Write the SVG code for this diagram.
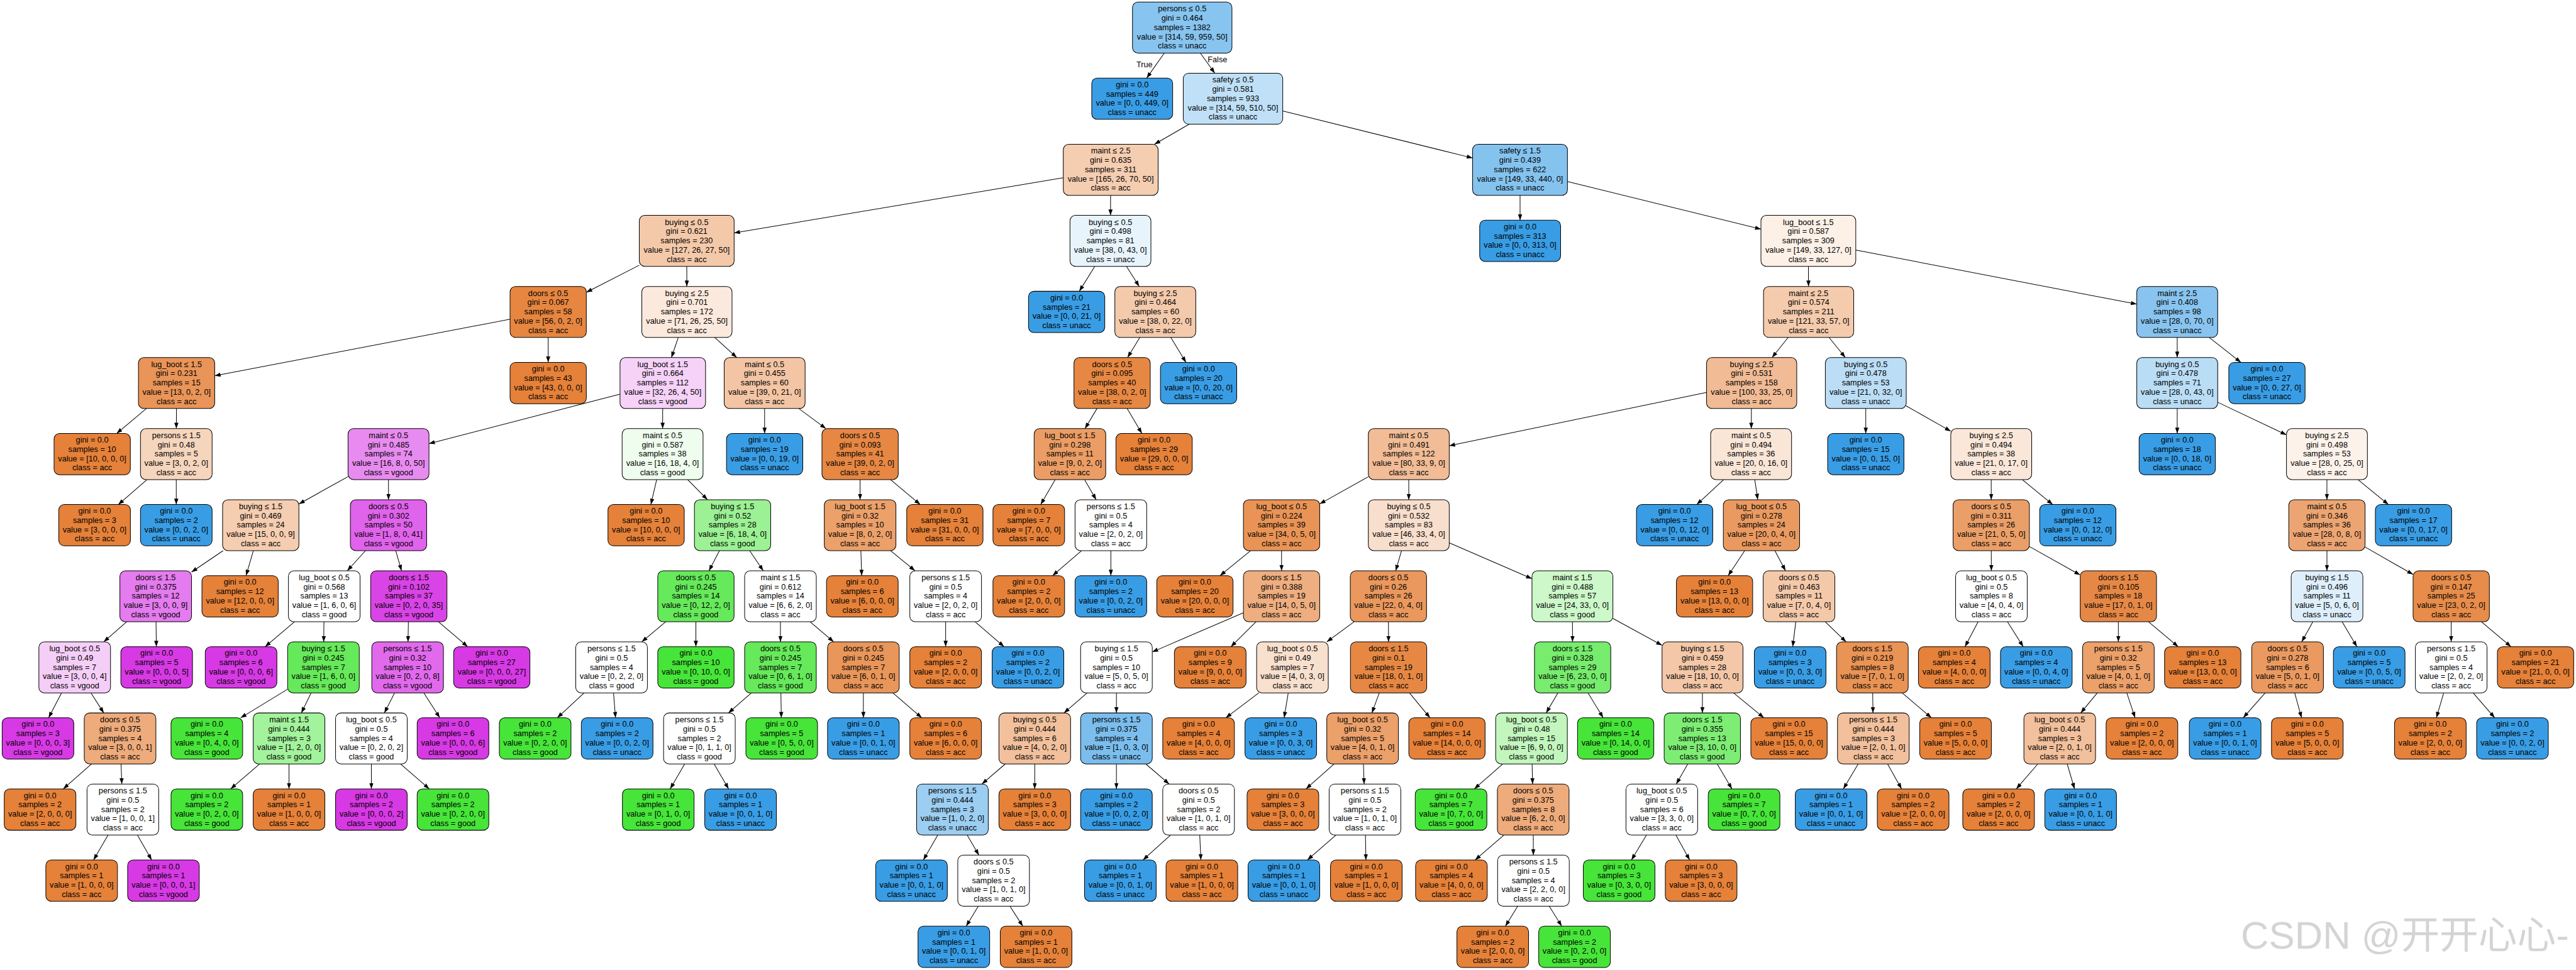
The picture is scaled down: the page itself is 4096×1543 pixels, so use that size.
<svg xmlns="http://www.w3.org/2000/svg" width="4096" height="1543" viewBox="0 0 4096 1543">
<defs>
<style>
.nd rect{stroke:#000;stroke-width:1.5}
.nd text{font-family:"Liberation Sans",Arial,Helvetica,sans-serif;font-size:19px;text-anchor:middle;fill:#000}
.a{fill:#e58139}.g{fill:#47e539}.u{fill:#399de5}.v{fill:#d739e5}.w{fill:#ffffff}
#edges line{stroke:#000;stroke-width:1.5;marker-end:url(#ah)}
.lbl{font-family:"Liberation Sans",Arial,Helvetica,sans-serif;font-size:19px;fill:#000}
.wm{font-family:"Liberation Sans","Noto Sans CJK SC",sans-serif;font-size:92px;fill:#d4d4d4}
</style>
<marker id="ah" viewBox="0 0 14 10" markerUnits="userSpaceOnUse" markerWidth="14" markerHeight="10" refX="14" refY="5" orient="auto"><path d="M0,0L14,5L0,10z" fill="#000"/></marker>
</defs>
<rect width="4096" height="1543" fill="#fff"/>
<g transform="scale(0.670486)">
<g id="edges">
<line x1="2761.1" y1="126" x2="2719.4" y2="185.15"/>
<line x1="2846.7" y1="126" x2="2880.9" y2="173.65"/>
<line x1="2820.2" y1="294.65" x2="2737.8" y2="342.3"/>
<line x1="3042" y1="263.4" x2="3492.2" y2="374.9"/>
<line x1="2521.5" y1="421.7" x2="1741" y2="552.6"/>
<line x1="2633.8" y1="463.3" x2="2633.6" y2="510.95"/>
<line x1="3604.8" y1="463.3" x2="3604.9" y2="522.45"/>
<line x1="3717.2" y1="430.5" x2="4176" y2="543.7"/>
<line x1="1516" y1="629.2" x2="1390.5" y2="693.6"/>
<line x1="1628.7" y1="631.95" x2="1628.8" y2="679.6"/>
<line x1="2596.2" y1="631.95" x2="2559.6" y2="691.1"/>
<line x1="2671.5" y1="631.95" x2="2701.7" y2="679.6"/>
<line x1="4288.7" y1="631.95" x2="4288.9" y2="679.6"/>
<line x1="4401" y1="593.1" x2="5067.3" y2="721.6"/>
<line x1="1209.5" y1="757.4" x2="509.2" y2="891.4"/>
<line x1="1300" y1="800.6" x2="1300" y2="859.75"/>
<line x1="1608.5" y1="800.6" x2="1592.3" y2="848.25"/>
<line x1="1695" y1="800.6" x2="1747.3" y2="848.25"/>
<line x1="2703.1" y1="800.6" x2="2674" y2="848.25"/>
<line x1="2776.5" y1="800.6" x2="2812.6" y2="859.75"/>
<line x1="4240.7" y1="800.6" x2="4202.4" y2="848.25"/>
<line x1="4337.6" y1="800.6" x2="4376.2" y2="848.25"/>
<line x1="5163.3" y1="800.6" x2="5163.3" y2="848.25"/>
<line x1="5239.4" y1="800.6" x2="5314.3" y2="859.75"/>
<line x1="347.1" y1="969.25" x2="276.6" y2="1028.4"/>
<line x1="418.5" y1="969.25" x2="418.2" y2="1016.9"/>
<line x1="1470.3" y1="935.1" x2="1017.3" y2="1052.5"/>
<line x1="1571.6" y1="969.25" x2="1571.4" y2="1016.9"/>
<line x1="1813.3" y1="969.25" x2="1813.3" y2="1028.4"/>
<line x1="1894.4" y1="969.25" x2="1958.6" y2="1016.9"/>
<line x1="2601.5" y1="969.25" x2="2573.1" y2="1016.9"/>
<line x1="2673" y1="969.25" x2="2708" y2="1028.4"/>
<line x1="4047" y1="930.9" x2="3436.9" y2="1057.5"/>
<line x1="4153.5" y1="969.25" x2="4153.2" y2="1016.9"/>
<line x1="4424.7" y1="969.25" x2="4424.7" y2="1028.4"/>
<line x1="4520.7" y1="963.2" x2="4626.2" y2="1023"/>
<line x1="5163.3" y1="969.25" x2="5163.3" y2="1028.4"/>
<line x1="5259.3" y1="954.4" x2="5422.3" y2="1031.8"/>
<line x1="348.7" y1="1137.9" x2="280.5" y2="1197.05"/>
<line x1="418" y1="1137.9" x2="418" y2="1197.05"/>
<line x1="825.3" y1="1130.8" x2="708.8" y2="1195.7"/>
<line x1="921.3" y1="1137.9" x2="921.3" y2="1185.55"/>
<line x1="1557.3" y1="1137.9" x2="1543.5" y2="1197.05"/>
<line x1="1630.7" y1="1137.9" x2="1677.8" y2="1185.55"/>
<line x1="2039.7" y1="1137.9" x2="2039.7" y2="1185.55"/>
<line x1="2111.7" y1="1137.9" x2="2182.4" y2="1197.05"/>
<line x1="2502.4" y1="1137.9" x2="2468" y2="1197.05"/>
<line x1="2572.1" y1="1137.9" x2="2599.6" y2="1185.55"/>
<line x1="3244.9" y1="1131.1" x2="3129.7" y2="1195.5"/>
<line x1="3340.9" y1="1137.9" x2="3340.9" y2="1185.55"/>
<line x1="4087.8" y1="1137.9" x2="4023.9" y2="1197.05"/>
<line x1="4161.5" y1="1137.9" x2="4168.5" y2="1185.55"/>
<line x1="4722.2" y1="1137.9" x2="4722.2" y2="1185.55"/>
<line x1="4795.7" y1="1137.9" x2="4868" y2="1197.05"/>
<line x1="5518.3" y1="1137.9" x2="5518.3" y2="1185.55"/>
<line x1="5591.8" y1="1137.9" x2="5664.1" y2="1197.05"/>
<line x1="529.1" y1="1306.55" x2="454.2" y2="1357.2"/>
<line x1="600.8" y1="1306.55" x2="583.5" y2="1365.7"/>
<line x1="866.7" y1="1306.55" x2="823.5" y2="1354.2"/>
<line x1="938.6" y1="1306.55" x2="952.2" y2="1354.2"/>
<line x1="1706.1" y1="1306.55" x2="1681.4" y2="1354.2"/>
<line x1="1777.9" y1="1306.55" x2="1810.1" y2="1354.2"/>
<line x1="2041.6" y1="1306.55" x2="2043.5" y2="1365.7"/>
<line x1="2112.3" y1="1306.55" x2="2170" y2="1354.2"/>
<line x1="2564.7" y1="1306.55" x2="2496.2" y2="1365.7"/>
<line x1="2634.4" y1="1306.55" x2="2634.4" y2="1365.7"/>
<line x1="2965.6" y1="1306.55" x2="2893.3" y2="1365.7"/>
<line x1="3039.2" y1="1306.55" x2="3039.2" y2="1354.2"/>
<line x1="3323.6" y1="1306.55" x2="3309.9" y2="1354.2"/>
<line x1="3436.9" y1="1287.8" x2="3633" y2="1373"/>
<line x1="4137.5" y1="1306.55" x2="4098.3" y2="1365.7"/>
<line x1="4209.2" y1="1306.55" x2="4234.4" y2="1354.2"/>
<line x1="4722.3" y1="1306.55" x2="4722.5" y2="1354.2"/>
<line x1="4812.7" y1="1296.7" x2="4933.2" y2="1364.1"/>
<line x1="5518.4" y1="1306.55" x2="5518.4" y2="1354.2"/>
<line x1="5608.8" y1="1297.8" x2="5722.6" y2="1362.9"/>
<line x1="300.4" y1="1475.2" x2="245.9" y2="1522.85"/>
<line x1="370" y1="1475.2" x2="370.8" y2="1534.35"/>
<line x1="698.3" y1="1475.2" x2="628.8" y2="1534.35"/>
<line x1="768.2" y1="1475.2" x2="767.7" y2="1522.85"/>
<line x1="968.5" y1="1475.2" x2="967.6" y2="1522.85"/>
<line x1="1039.9" y1="1475.2" x2="1109.2" y2="1534.35"/>
<line x1="1578.7" y1="1475.2" x2="1521.9" y2="1522.85"/>
<line x1="1650.3" y1="1475.2" x2="1650.3" y2="1534.35"/>
<line x1="1850.8" y1="1475.2" x2="1850.8" y2="1522.85"/>
<line x1="1921.2" y1="1475.2" x2="1977.1" y2="1522.85"/>
<line x1="2242.6" y1="1475.2" x2="2242.6" y2="1534.35"/>
<line x1="2312.5" y1="1475.2" x2="2381.2" y2="1534.35"/>
<line x1="2948.7" y1="1453.7" x2="2732.6" y2="1546.8"/>
<line x1="2978.6" y1="1475.2" x2="2919.1" y2="1534.35"/>
<line x1="3211.1" y1="1475.2" x2="3146.5" y2="1522.85"/>
<line x1="3292.7" y1="1475.2" x2="3292.9" y2="1522.85"/>
<line x1="3729.1" y1="1475.2" x2="3729.3" y2="1522.85"/>
<line x1="3825" y1="1467.2" x2="3941.5" y2="1530.9"/>
<line x1="4258.8" y1="1475.2" x2="4251.4" y2="1534.35"/>
<line x1="4328.6" y1="1475.2" x2="4378" y2="1522.85"/>
<line x1="4691.1" y1="1475.2" x2="4660" y2="1534.35"/>
<line x1="4760.7" y1="1475.2" x2="4798.2" y2="1534.35"/>
<line x1="5023.7" y1="1475.2" x2="5023.7" y2="1522.85"/>
<line x1="5095.3" y1="1475.2" x2="5165.7" y2="1534.35"/>
<line x1="5485" y1="1475.2" x2="5458.5" y2="1522.85"/>
<line x1="5554.3" y1="1475.2" x2="5589.5" y2="1534.35"/>
<line x1="5813.1" y1="1475.2" x2="5813" y2="1522.85"/>
<line x1="5884.7" y1="1475.2" x2="5955" y2="1534.35"/>
<line x1="145.9" y1="1643.85" x2="115.3" y2="1703"/>
<line x1="215.6" y1="1643.85" x2="246.2" y2="1691.5"/>
<line x1="682" y1="1635.2" x2="570.7" y2="1703"/>
<line x1="737.8" y1="1643.85" x2="714.6" y2="1691.5"/>
<line x1="935.8" y1="1643.85" x2="911.5" y2="1691.5"/>
<line x1="1005.1" y1="1643.85" x2="1043" y2="1703"/>
<line x1="1385.4" y1="1643.85" x2="1321.6" y2="1703"/>
<line x1="1455" y1="1643.85" x2="1459.7" y2="1703"/>
<line x1="1782" y1="1643.85" x2="1727.4" y2="1691.5"/>
<line x1="1851.9" y1="1643.85" x2="1852.9" y2="1703"/>
<line x1="2047.5" y1="1643.85" x2="2047.5" y2="1703"/>
<line x1="2117.3" y1="1643.85" x2="2186" y2="1703"/>
<line x1="2578.3" y1="1643.85" x2="2523.2" y2="1691.5"/>
<line x1="2647.6" y1="1643.85" x2="2647.6" y2="1691.5"/>
<line x1="2985.3" y1="1643.85" x2="2907" y2="1703"/>
<line x1="3055.1" y1="1643.85" x2="3045.4" y2="1703"/>
<line x1="3271" y1="1643.85" x2="3253.5" y2="1691.5"/>
<line x1="3342.5" y1="1643.85" x2="3391.3" y2="1703"/>
<line x1="3694.5" y1="1643.85" x2="3666.8" y2="1691.5"/>
<line x1="3766" y1="1643.85" x2="3801.9" y2="1703"/>
<line x1="4037.3" y1="1643.85" x2="4037.2" y2="1691.5"/>
<line x1="4110.9" y1="1643.85" x2="4183.1" y2="1703"/>
<line x1="4441.1" y1="1643.85" x2="4441.8" y2="1691.5"/>
<line x1="4510.9" y1="1643.85" x2="4580.4" y2="1703"/>
<line x1="4973.9" y1="1643.85" x2="4934.4" y2="1691.5"/>
<line x1="5043.7" y1="1643.85" x2="5063.4" y2="1703"/>
<line x1="5372" y1="1643.85" x2="5319.8" y2="1703"/>
<line x1="5441.8" y1="1643.85" x2="5458.2" y2="1703"/>
<line x1="5795.3" y1="1643.85" x2="5777.9" y2="1703"/>
<line x1="5865" y1="1643.85" x2="5916.2" y2="1703"/>
<line x1="216.8" y1="1812.5" x2="150" y2="1871.65"/>
<line x1="287.1" y1="1812.5" x2="288.9" y2="1860.15"/>
<line x1="615.6" y1="1812.5" x2="547" y2="1871.65"/>
<line x1="685.4" y1="1812.5" x2="685.4" y2="1871.65"/>
<line x1="880.7" y1="1812.5" x2="880.7" y2="1871.65"/>
<line x1="950" y1="1812.5" x2="1018.1" y2="1871.65"/>
<line x1="1623.7" y1="1812.5" x2="1589.3" y2="1871.65"/>
<line x1="1693.5" y1="1812.5" x2="1727.9" y2="1871.65"/>
<line x1="2384" y1="1812.5" x2="2328.6" y2="1860.15"/>
<line x1="2453.9" y1="1812.5" x2="2453.9" y2="1871.65"/>
<line x1="2647.6" y1="1812.5" x2="2647.6" y2="1871.65"/>
<line x1="2717.3" y1="1812.5" x2="2772.7" y2="1860.15"/>
<line x1="3163.7" y1="1812.5" x2="3097.2" y2="1871.65"/>
<line x1="3233.4" y1="1812.5" x2="3235" y2="1860.15"/>
<line x1="3563.6" y1="1812.5" x2="3496.4" y2="1871.65"/>
<line x1="3633.4" y1="1812.5" x2="3634.5" y2="1860.15"/>
<line x1="4002.6" y1="1812.5" x2="3975.3" y2="1860.15"/>
<line x1="4072.4" y1="1812.5" x2="4107.3" y2="1871.65"/>
<line x1="4406.7" y1="1812.5" x2="4371.5" y2="1871.65"/>
<line x1="4476.4" y1="1812.5" x2="4509.6" y2="1871.65"/>
<line x1="4832.7" y1="1812.5" x2="4781.6" y2="1871.65"/>
<line x1="4902.4" y1="1812.5" x2="4919.8" y2="1871.65"/>
<line x1="256.3" y1="1981.15" x2="221.9" y2="2040.3"/>
<line x1="325.8" y1="1981.15" x2="359.7" y2="2040.3"/>
<line x1="2223.9" y1="1981.15" x2="2189.8" y2="2040.3"/>
<line x1="2293.6" y1="1981.15" x2="2321.4" y2="2028.8"/>
<line x1="2776" y1="1981.15" x2="2710.7" y2="2040.3"/>
<line x1="2845.2" y1="1981.15" x2="2847.9" y2="2040.3"/>
<line x1="3168.2" y1="1981.15" x2="3100.5" y2="2040.3"/>
<line x1="3238.1" y1="1981.15" x2="3239.3" y2="2040.3"/>
<line x1="3566.5" y1="1981.15" x2="3498.3" y2="2040.3"/>
<line x1="3636.2" y1="1981.15" x2="3636.3" y2="2028.8"/>
<line x1="3904.7" y1="1981.15" x2="3869" y2="2040.3"/>
<line x1="3974.3" y1="1981.15" x2="4007.1" y2="2040.3"/>
<line x1="2320" y1="2149.8" x2="2291.4" y2="2197.45"/>
<line x1="2395.1" y1="2149.8" x2="2425.6" y2="2197.45"/>
<line x1="3599.3" y1="2149.8" x2="3570.1" y2="2197.45"/>
<line x1="3674" y1="2149.8" x2="3703.6" y2="2197.45"/>
</g>
<text class="lbl" x="2695" y="159">True</text>
<text class="lbl" x="2864" y="147">False</text>
<g id="nodes">
<g id="n0" class="nd"><rect x="2685.7" y="5" width="235.9" height="121" rx="13" fill="#87c4ef"/><text x="2803.6" y="27.3">persons ≤ 0.5<tspan x="2803.6" dy="22">gini = 0.464</tspan><tspan x="2803.6" dy="22">samples = 1382</tspan><tspan x="2803.6" dy="22">value = [314, 59, 959, 50]</tspan><tspan x="2803.6" dy="22">class = unacc</tspan></text></g>
<g id="n1" class="nd"><rect x="2589.1" y="185.15" width="191.9" height="98" rx="13" class="u"/><text x="2685" y="206.95">gini = 0.0<tspan x="2685" dy="22">samples = 449</tspan><tspan x="2685" dy="22">value = [0, 0, 449, 0]</tspan><tspan x="2685" dy="22">class = unacc</tspan></text></g>
<g id="n2" class="nd"><rect x="2806.1" y="173.65" width="235.9" height="121" rx="13" fill="#c0e0f7"/><text x="2924" y="195.95">safety ≤ 0.5<tspan x="2924" dy="22">gini = 0.581</tspan><tspan x="2924" dy="22">samples = 933</tspan><tspan x="2924" dy="22">value = [314, 59, 510, 50]</tspan><tspan x="2924" dy="22">class = unacc</tspan></text></g>
<g id="n3" class="nd"><rect x="2521.6" y="342.3" width="224.9" height="121" rx="13" fill="#f5cdb1"/><text x="2634" y="364.6">maint ≤ 2.5<tspan x="2634" dy="22">gini = 0.635</tspan><tspan x="2634" dy="22">samples = 311</tspan><tspan x="2634" dy="22">value = [165, 26, 70, 50]</tspan><tspan x="2634" dy="22">class = acc</tspan></text></g>
<g id="n4" class="nd"><rect x="3492.3" y="342.3" width="224.9" height="121" rx="13" fill="#85c3ef"/><text x="3604.7" y="364.6">safety ≤ 1.5<tspan x="3604.7" dy="22">gini = 0.439</tspan><tspan x="3604.7" dy="22">samples = 622</tspan><tspan x="3604.7" dy="22">value = [149, 33, 440, 0]</tspan><tspan x="3604.7" dy="22">class = unacc</tspan></text></g>
<g id="n5" class="nd"><rect x="1516.1" y="510.95" width="224.9" height="121" rx="13" fill="#f4c9aa"/><text x="1628.5" y="533.25">buying ≤ 0.5<tspan x="1628.5" dy="22">gini = 0.621</tspan><tspan x="1628.5" dy="22">samples = 230</tspan><tspan x="1628.5" dy="22">value = [127, 26, 27, 50]</tspan><tspan x="1628.5" dy="22">class = acc</tspan></text></g>
<g id="n6" class="nd"><rect x="2537.5" y="510.95" width="191.9" height="121" rx="13" fill="#e8f4fc"/><text x="2633.4" y="533.25">buying ≤ 0.5<tspan x="2633.4" dy="22">gini = 0.498</tspan><tspan x="2633.4" dy="22">samples = 81</tspan><tspan x="2633.4" dy="22">value = [38, 0, 43, 0]</tspan><tspan x="2633.4" dy="22">class = unacc</tspan></text></g>
<g id="n7" class="nd"><rect x="3509.1" y="522.45" width="191.9" height="98" rx="13" class="u"/><text x="3605" y="544.25">gini = 0.0<tspan x="3605" dy="22">samples = 313</tspan><tspan x="3605" dy="22">value = [0, 0, 313, 0]</tspan><tspan x="3605" dy="22">class = unacc</tspan></text></g>
<g id="n8" class="nd"><rect x="4176.1" y="510.95" width="224.9" height="121" rx="13" fill="#fcf0e7"/><text x="4288.5" y="533.25">lug_boot ≤ 1.5<tspan x="4288.5" dy="22">gini = 0.587</tspan><tspan x="4288.5" dy="22">samples = 309</tspan><tspan x="4288.5" dy="22">value = [149, 33, 127, 0]</tspan><tspan x="4288.5" dy="22">class = acc</tspan></text></g>
<g id="n9" class="nd"><rect x="1209.6" y="679.6" width="180.9" height="121" rx="13" fill="#e68640"/><text x="1300" y="701.9">doors ≤ 0.5<tspan x="1300" dy="22">gini = 0.067</tspan><tspan x="1300" dy="22">samples = 58</tspan><tspan x="1300" dy="22">value = [56, 0, 2, 0]</tspan><tspan x="1300" dy="22">class = acc</tspan></text></g>
<g id="n10" class="nd"><rect x="1522.1" y="679.6" width="213.9" height="121" rx="13" fill="#fbe9dd"/><text x="1629" y="701.9">buying ≤ 2.5<tspan x="1629" dy="22">gini = 0.701</tspan><tspan x="1629" dy="22">samples = 172</tspan><tspan x="1629" dy="22">value = [71, 26, 25, 50]</tspan><tspan x="1629" dy="22">class = acc</tspan></text></g>
<g id="n11" class="nd"><rect x="2439.1" y="691.1" width="180.9" height="98" rx="13" class="u"/><text x="2529.5" y="712.9">gini = 0.0<tspan x="2529.5" dy="22">samples = 21</tspan><tspan x="2529.5" dy="22">value = [0, 0, 21, 0]</tspan><tspan x="2529.5" dy="22">class = unacc</tspan></text></g>
<g id="n12" class="nd"><rect x="2643.9" y="679.6" width="191.9" height="121" rx="13" fill="#f4caac"/><text x="2739.8" y="701.9">buying ≤ 2.5<tspan x="2739.8" dy="22">gini = 0.464</tspan><tspan x="2739.8" dy="22">samples = 60</tspan><tspan x="2739.8" dy="22">value = [38, 0, 22, 0]</tspan><tspan x="2739.8" dy="22">class = acc</tspan></text></g>
<g id="n13" class="nd"><rect x="4182.2" y="679.6" width="213.9" height="121" rx="13" fill="#f4cbad"/><text x="4289.1" y="701.9">maint ≤ 2.5<tspan x="4289.1" dy="22">gini = 0.574</tspan><tspan x="4289.1" dy="22">samples = 211</tspan><tspan x="4289.1" dy="22">value = [121, 33, 57, 0]</tspan><tspan x="4289.1" dy="22">class = acc</tspan></text></g>
<g id="n14" class="nd"><rect x="5067.4" y="679.6" width="191.9" height="121" rx="13" fill="#88c4ef"/><text x="5163.3" y="701.9">maint ≤ 2.5<tspan x="5163.3" dy="22">gini = 0.408</tspan><tspan x="5163.3" dy="22">samples = 98</tspan><tspan x="5163.3" dy="22">value = [28, 0, 70, 0]</tspan><tspan x="5163.3" dy="22">class = unacc</tspan></text></g>
<g id="n15" class="nd"><rect x="328.3" y="848.25" width="180.9" height="121" rx="13" fill="#e99458"/><text x="418.7" y="870.55">lug_boot ≤ 1.5<tspan x="418.7" dy="22">gini = 0.231</tspan><tspan x="418.7" dy="22">samples = 15</tspan><tspan x="418.7" dy="22">value = [13, 0, 2, 0]</tspan><tspan x="418.7" dy="22">class = acc</tspan></text></g>
<g id="n16" class="nd"><rect x="1209.6" y="859.75" width="180.9" height="98" rx="13" class="a"/><text x="1300" y="881.55">gini = 0.0<tspan x="1300" dy="22">samples = 43</tspan><tspan x="1300" dy="22">value = [43, 0, 0, 0]</tspan><tspan x="1300" dy="22">class = acc</tspan></text></g>
<g id="n17" class="nd"><rect x="1470.4" y="848.25" width="202.9" height="121" rx="13" fill="#f6d2f9"/><text x="1571.8" y="870.55">lug_boot ≤ 1.5<tspan x="1571.8" dy="22">gini = 0.664</tspan><tspan x="1571.8" dy="22">samples = 112</tspan><tspan x="1571.8" dy="22">value = [32, 26, 4, 50]</tspan><tspan x="1571.8" dy="22">class = vgood</tspan></text></g>
<g id="n18" class="nd"><rect x="1717.4" y="848.25" width="191.9" height="121" rx="13" fill="#f3c5a4"/><text x="1813.3" y="870.55">maint ≤ 0.5<tspan x="1813.3" dy="22">gini = 0.455</tspan><tspan x="1813.3" dy="22">samples = 60</tspan><tspan x="1813.3" dy="22">value = [39, 0, 21, 0]</tspan><tspan x="1813.3" dy="22">class = acc</tspan></text></g>
<g id="n19" class="nd"><rect x="2546.9" y="848.25" width="180.9" height="121" rx="13" fill="#e68843"/><text x="2637.3" y="870.55">doors ≤ 0.5<tspan x="2637.3" dy="22">gini = 0.095</tspan><tspan x="2637.3" dy="22">samples = 40</tspan><tspan x="2637.3" dy="22">value = [38, 0, 2, 0]</tspan><tspan x="2637.3" dy="22">class = acc</tspan></text></g>
<g id="n20" class="nd"><rect x="2752" y="859.75" width="180.9" height="98" rx="13" class="u"/><text x="2842.4" y="881.55">gini = 0.0<tspan x="2842.4" dy="22">samples = 20</tspan><tspan x="2842.4" dy="22">value = [0, 0, 20, 0]</tspan><tspan x="2842.4" dy="22">class = unacc</tspan></text></g>
<g id="n21" class="nd"><rect x="4047.1" y="848.25" width="213.9" height="121" rx="13" fill="#f1bb95"/><text x="4154" y="870.55">buying ≤ 2.5<tspan x="4154" dy="22">gini = 0.531</tspan><tspan x="4154" dy="22">samples = 158</tspan><tspan x="4154" dy="22">value = [100, 33, 25, 0]</tspan><tspan x="4154" dy="22">class = acc</tspan></text></g>
<g id="n22" class="nd"><rect x="4328.8" y="848.25" width="191.9" height="121" rx="13" fill="#bbddf6"/><text x="4424.7" y="870.55">buying ≤ 0.5<tspan x="4424.7" dy="22">gini = 0.478</tspan><tspan x="4424.7" dy="22">samples = 53</tspan><tspan x="4424.7" dy="22">value = [21, 0, 32, 0]</tspan><tspan x="4424.7" dy="22">class = unacc</tspan></text></g>
<g id="n23" class="nd"><rect x="5067.4" y="848.25" width="191.9" height="121" rx="13" fill="#baddf6"/><text x="5163.3" y="870.55">buying ≤ 0.5<tspan x="5163.3" dy="22">gini = 0.478</tspan><tspan x="5163.3" dy="22">samples = 71</tspan><tspan x="5163.3" dy="22">value = [28, 0, 43, 0]</tspan><tspan x="5163.3" dy="22">class = unacc</tspan></text></g>
<g id="n24" class="nd"><rect x="5285.6" y="859.75" width="180.9" height="98" rx="13" class="u"/><text x="5376" y="881.55">gini = 0.0<tspan x="5376" dy="22">samples = 27</tspan><tspan x="5376" dy="22">value = [0, 0, 27, 0]</tspan><tspan x="5376" dy="22">class = unacc</tspan></text></g>
<g id="n25" class="nd"><rect x="128.2" y="1028.4" width="180.9" height="98" rx="13" class="a"/><text x="218.6" y="1050.2">gini = 0.0<tspan x="218.6" dy="22">samples = 10</tspan><tspan x="218.6" dy="22">value = [10, 0, 0, 0]</tspan><tspan x="218.6" dy="22">class = acc</tspan></text></g>
<g id="n26" class="nd"><rect x="333.1" y="1016.9" width="169.9" height="121" rx="13" fill="#f6d5bd"/><text x="418" y="1039.2">persons ≤ 1.5<tspan x="418" dy="22">gini = 0.48</tspan><tspan x="418" dy="22">samples = 5</tspan><tspan x="418" dy="22">value = [3, 0, 2, 0]</tspan><tspan x="418" dy="22">class = acc</tspan></text></g>
<g id="n27" class="nd"><rect x="825.4" y="1016.9" width="191.9" height="121" rx="13" fill="#e88bf0"/><text x="921.3" y="1039.2">maint ≤ 0.5<tspan x="921.3" dy="22">gini = 0.485</tspan><tspan x="921.3" dy="22">samples = 74</tspan><tspan x="921.3" dy="22">value = [16, 8, 0, 50]</tspan><tspan x="921.3" dy="22">class = vgood</tspan></text></g>
<g id="n28" class="nd"><rect x="1475.4" y="1016.9" width="191.9" height="121" rx="13" fill="#eefded"/><text x="1571.3" y="1039.2">maint ≤ 0.5<tspan x="1571.3" dy="22">gini = 0.587</tspan><tspan x="1571.3" dy="22">samples = 38</tspan><tspan x="1571.3" dy="22">value = [16, 18, 4, 0]</tspan><tspan x="1571.3" dy="22">class = good</tspan></text></g>
<g id="n29" class="nd"><rect x="1722.9" y="1028.4" width="180.9" height="98" rx="13" class="u"/><text x="1813.3" y="1050.2">gini = 0.0<tspan x="1813.3" dy="22">samples = 19</tspan><tspan x="1813.3" dy="22">value = [0, 0, 19, 0]</tspan><tspan x="1813.3" dy="22">class = unacc</tspan></text></g>
<g id="n30" class="nd"><rect x="1949.3" y="1016.9" width="180.9" height="121" rx="13" fill="#e68743"/><text x="2039.7" y="1039.2">doors ≤ 0.5<tspan x="2039.7" dy="22">gini = 0.093</tspan><tspan x="2039.7" dy="22">samples = 41</tspan><tspan x="2039.7" dy="22">value = [39, 0, 2, 0]</tspan><tspan x="2039.7" dy="22">class = acc</tspan></text></g>
<g id="n31" class="nd"><rect x="2452.4" y="1016.9" width="169.9" height="121" rx="13" fill="#eb9d65"/><text x="2537.3" y="1039.2">lug_boot ≤ 1.5<tspan x="2537.3" dy="22">gini = 0.298</tspan><tspan x="2537.3" dy="22">samples = 11</tspan><tspan x="2537.3" dy="22">value = [9, 0, 2, 0]</tspan><tspan x="2537.3" dy="22">class = acc</tspan></text></g>
<g id="n32" class="nd"><rect x="2646.5" y="1028.4" width="180.9" height="98" rx="13" class="a"/><text x="2736.9" y="1050.2">gini = 0.0<tspan x="2736.9" dy="22">samples = 29</tspan><tspan x="2736.9" dy="22">value = [29, 0, 0, 0]</tspan><tspan x="2736.9" dy="22">class = acc</tspan></text></g>
<g id="n33" class="nd"><rect x="3245" y="1016.9" width="191.9" height="121" rx="13" fill="#f1bc96"/><text x="3340.9" y="1039.2">maint ≤ 0.5<tspan x="3340.9" dy="22">gini = 0.491</tspan><tspan x="3340.9" dy="22">samples = 122</tspan><tspan x="3340.9" dy="22">value = [80, 33, 9, 0]</tspan><tspan x="3340.9" dy="22">class = acc</tspan></text></g>
<g id="n34" class="nd"><rect x="4056.8" y="1016.9" width="191.9" height="121" rx="13" fill="#fae6d7"/><text x="4152.7" y="1039.2">maint ≤ 0.5<tspan x="4152.7" dy="22">gini = 0.494</tspan><tspan x="4152.7" dy="22">samples = 36</tspan><tspan x="4152.7" dy="22">value = [20, 0, 16, 0]</tspan><tspan x="4152.7" dy="22">class = acc</tspan></text></g>
<g id="n35" class="nd"><rect x="4334.3" y="1028.4" width="180.9" height="98" rx="13" class="u"/><text x="4424.7" y="1050.2">gini = 0.0<tspan x="4424.7" dy="22">samples = 15</tspan><tspan x="4424.7" dy="22">value = [0, 0, 15, 0]</tspan><tspan x="4424.7" dy="22">class = unacc</tspan></text></g>
<g id="n36" class="nd"><rect x="4626.3" y="1016.9" width="191.9" height="121" rx="13" fill="#fae7d9"/><text x="4722.2" y="1039.2">buying ≤ 2.5<tspan x="4722.2" dy="22">gini = 0.494</tspan><tspan x="4722.2" dy="22">samples = 38</tspan><tspan x="4722.2" dy="22">value = [21, 0, 17, 0]</tspan><tspan x="4722.2" dy="22">class = acc</tspan></text></g>
<g id="n37" class="nd"><rect x="5072.9" y="1028.4" width="180.9" height="98" rx="13" class="u"/><text x="5163.3" y="1050.2">gini = 0.0<tspan x="5163.3" dy="22">samples = 18</tspan><tspan x="5163.3" dy="22">value = [0, 0, 18, 0]</tspan><tspan x="5163.3" dy="22">class = unacc</tspan></text></g>
<g id="n38" class="nd"><rect x="5422.4" y="1016.9" width="191.9" height="121" rx="13" fill="#fcf2ea"/><text x="5518.3" y="1039.2">buying ≤ 2.5<tspan x="5518.3" dy="22">gini = 0.498</tspan><tspan x="5518.3" dy="22">samples = 53</tspan><tspan x="5518.3" dy="22">value = [28, 0, 25, 0]</tspan><tspan x="5518.3" dy="22">class = acc</tspan></text></g>
<g id="n39" class="nd"><rect x="139.4" y="1197.05" width="169.9" height="98" rx="13" class="a"/><text x="224.3" y="1218.85">gini = 0.0<tspan x="224.3" dy="22">samples = 3</tspan><tspan x="224.3" dy="22">value = [3, 0, 0, 0]</tspan><tspan x="224.3" dy="22">class = acc</tspan></text></g>
<g id="n40" class="nd"><rect x="333.1" y="1197.05" width="169.9" height="98" rx="13" class="u"/><text x="418" y="1218.85">gini = 0.0<tspan x="418" dy="22">samples = 2</tspan><tspan x="418" dy="22">value = [0, 0, 2, 0]</tspan><tspan x="418" dy="22">class = unacc</tspan></text></g>
<g id="n41" class="nd"><rect x="527.9" y="1185.55" width="180.9" height="121" rx="13" fill="#f5cdb0"/><text x="618.3" y="1207.85">buying ≤ 1.5<tspan x="618.3" dy="22">gini = 0.469</tspan><tspan x="618.3" dy="22">samples = 24</tspan><tspan x="618.3" dy="22">value = [15, 0, 0, 9]</tspan><tspan x="618.3" dy="22">class = acc</tspan></text></g>
<g id="n42" class="nd"><rect x="830.9" y="1185.55" width="180.9" height="121" rx="13" fill="#e063eb"/><text x="921.3" y="1207.85">doors ≤ 0.5<tspan x="921.3" dy="22">gini = 0.302</tspan><tspan x="921.3" dy="22">samples = 50</tspan><tspan x="921.3" dy="22">value = [1, 8, 0, 41]</tspan><tspan x="921.3" dy="22">class = vgood</tspan></text></g>
<g id="n43" class="nd"><rect x="1441.8" y="1197.05" width="180.9" height="98" rx="13" class="a"/><text x="1532.2" y="1218.85">gini = 0.0<tspan x="1532.2" dy="22">samples = 10</tspan><tspan x="1532.2" dy="22">value = [10, 0, 0, 0]</tspan><tspan x="1532.2" dy="22">class = acc</tspan></text></g>
<g id="n44" class="nd"><rect x="1646.8" y="1185.55" width="180.9" height="121" rx="13" fill="#9bf193"/><text x="1737.2" y="1207.85">buying ≤ 1.5<tspan x="1737.2" dy="22">gini = 0.52</tspan><tspan x="1737.2" dy="22">samples = 28</tspan><tspan x="1737.2" dy="22">value = [6, 18, 4, 0]</tspan><tspan x="1737.2" dy="22">class = good</tspan></text></g>
<g id="n45" class="nd"><rect x="1954.8" y="1185.55" width="169.9" height="121" rx="13" fill="#eca06a"/><text x="2039.7" y="1207.85">lug_boot ≤ 1.5<tspan x="2039.7" dy="22">gini = 0.32</tspan><tspan x="2039.7" dy="22">samples = 10</tspan><tspan x="2039.7" dy="22">value = [8, 0, 2, 0]</tspan><tspan x="2039.7" dy="22">class = acc</tspan></text></g>
<g id="n46" class="nd"><rect x="2150.3" y="1197.05" width="180.9" height="98" rx="13" class="a"/><text x="2240.7" y="1218.85">gini = 0.0<tspan x="2240.7" dy="22">samples = 31</tspan><tspan x="2240.7" dy="22">value = [31, 0, 0, 0]</tspan><tspan x="2240.7" dy="22">class = acc</tspan></text></g>
<g id="n47" class="nd"><rect x="2354.8" y="1197.05" width="169.9" height="98" rx="13" class="a"/><text x="2439.7" y="1218.85">gini = 0.0<tspan x="2439.7" dy="22">samples = 7</tspan><tspan x="2439.7" dy="22">value = [7, 0, 0, 0]</tspan><tspan x="2439.7" dy="22">class = acc</tspan></text></g>
<g id="n48" class="nd"><rect x="2549.5" y="1185.55" width="169.9" height="121" rx="13" class="w"/><text x="2634.4" y="1207.85">persons ≤ 1.5<tspan x="2634.4" dy="22">gini = 0.5</tspan><tspan x="2634.4" dy="22">samples = 4</tspan><tspan x="2634.4" dy="22">value = [2, 0, 2, 0]</tspan><tspan x="2634.4" dy="22">class = acc</tspan></text></g>
<g id="n49" class="nd"><rect x="2948.8" y="1185.55" width="180.9" height="121" rx="13" fill="#e99456"/><text x="3039.2" y="1207.85">lug_boot ≤ 0.5<tspan x="3039.2" dy="22">gini = 0.224</tspan><tspan x="3039.2" dy="22">samples = 39</tspan><tspan x="3039.2" dy="22">value = [34, 0, 5, 0]</tspan><tspan x="3039.2" dy="22">class = acc</tspan></text></g>
<g id="n50" class="nd"><rect x="3245" y="1185.55" width="191.9" height="121" rx="13" fill="#f8decc"/><text x="3340.9" y="1207.85">buying ≤ 0.5<tspan x="3340.9" dy="22">gini = 0.532</tspan><tspan x="3340.9" dy="22">samples = 83</tspan><tspan x="3340.9" dy="22">value = [46, 33, 4, 0]</tspan><tspan x="3340.9" dy="22">class = acc</tspan></text></g>
<g id="n51" class="nd"><rect x="3880.9" y="1197.05" width="180.9" height="98" rx="13" class="u"/><text x="3971.3" y="1218.85">gini = 0.0<tspan x="3971.3" dy="22">samples = 12</tspan><tspan x="3971.3" dy="22">value = [0, 0, 12, 0]</tspan><tspan x="3971.3" dy="22">class = unacc</tspan></text></g>
<g id="n52" class="nd"><rect x="4086.9" y="1185.55" width="180.9" height="121" rx="13" fill="#ea9a61"/><text x="4177.3" y="1207.85">lug_boot ≤ 0.5<tspan x="4177.3" dy="22">gini = 0.278</tspan><tspan x="4177.3" dy="22">samples = 24</tspan><tspan x="4177.3" dy="22">value = [20, 0, 4, 0]</tspan><tspan x="4177.3" dy="22">class = acc</tspan></text></g>
<g id="n53" class="nd"><rect x="4631.8" y="1185.55" width="180.9" height="121" rx="13" fill="#eb9f68"/><text x="4722.2" y="1207.85">doors ≤ 0.5<tspan x="4722.2" dy="22">gini = 0.311</tspan><tspan x="4722.2" dy="22">samples = 26</tspan><tspan x="4722.2" dy="22">value = [21, 0, 5, 0]</tspan><tspan x="4722.2" dy="22">class = acc</tspan></text></g>
<g id="n54" class="nd"><rect x="4837.1" y="1197.05" width="180.9" height="98" rx="13" class="u"/><text x="4927.5" y="1218.85">gini = 0.0<tspan x="4927.5" dy="22">samples = 12</tspan><tspan x="4927.5" dy="22">value = [0, 0, 12, 0]</tspan><tspan x="4927.5" dy="22">class = unacc</tspan></text></g>
<g id="n55" class="nd"><rect x="5427.9" y="1185.55" width="180.9" height="121" rx="13" fill="#eca572"/><text x="5518.3" y="1207.85">maint ≤ 0.5<tspan x="5518.3" dy="22">gini = 0.346</tspan><tspan x="5518.3" dy="22">samples = 36</tspan><tspan x="5518.3" dy="22">value = [28, 0, 8, 0]</tspan><tspan x="5518.3" dy="22">class = acc</tspan></text></g>
<g id="n56" class="nd"><rect x="5633.2" y="1197.05" width="180.9" height="98" rx="13" class="u"/><text x="5723.6" y="1218.85">gini = 0.0<tspan x="5723.6" dy="22">samples = 17</tspan><tspan x="5723.6" dy="22">value = [0, 0, 17, 0]</tspan><tspan x="5723.6" dy="22">class = unacc</tspan></text></g>
<g id="n57" class="nd"><rect x="284.3" y="1354.2" width="169.9" height="121" rx="13" fill="#e47bee"/><text x="369.2" y="1376.5">doors ≤ 1.5<tspan x="369.2" dy="22">gini = 0.375</tspan><tspan x="369.2" dy="22">samples = 12</tspan><tspan x="369.2" dy="22">value = [3, 0, 0, 9]</tspan><tspan x="369.2" dy="22">class = vgood</tspan></text></g>
<g id="n58" class="nd"><rect x="478.9" y="1365.7" width="180.9" height="98" rx="13" class="a"/><text x="569.3" y="1387.5">gini = 0.0<tspan x="569.3" dy="22">samples = 12</tspan><tspan x="569.3" dy="22">value = [12, 0, 0, 0]</tspan><tspan x="569.3" dy="22">class = acc</tspan></text></g>
<g id="n59" class="nd"><rect x="684" y="1354.2" width="169.9" height="121" rx="13" class="w"/><text x="768.9" y="1376.5">lug_boot ≤ 0.5<tspan x="768.9" dy="22">gini = 0.568</tspan><tspan x="768.9" dy="22">samples = 13</tspan><tspan x="768.9" dy="22">value = [1, 6, 0, 6]</tspan><tspan x="768.9" dy="22">class = good</tspan></text></g>
<g id="n60" class="nd"><rect x="879.1" y="1354.2" width="180.9" height="121" rx="13" fill="#d944e6"/><text x="969.5" y="1376.5">doors ≤ 1.5<tspan x="969.5" dy="22">gini = 0.102</tspan><tspan x="969.5" dy="22">samples = 37</tspan><tspan x="969.5" dy="22">value = [0, 2, 0, 35]</tspan><tspan x="969.5" dy="22">class = vgood</tspan></text></g>
<g id="n61" class="nd"><rect x="1559.9" y="1354.2" width="180.9" height="121" rx="13" fill="#66e95a"/><text x="1650.3" y="1376.5">doors ≤ 0.5<tspan x="1650.3" dy="22">gini = 0.245</tspan><tspan x="1650.3" dy="22">samples = 14</tspan><tspan x="1650.3" dy="22">value = [0, 12, 2, 0]</tspan><tspan x="1650.3" dy="22">class = good</tspan></text></g>
<g id="n62" class="nd"><rect x="1765.9" y="1354.2" width="169.9" height="121" rx="13" class="w"/><text x="1850.8" y="1376.5">maint ≤ 1.5<tspan x="1850.8" dy="22">gini = 0.612</tspan><tspan x="1850.8" dy="22">samples = 14</tspan><tspan x="1850.8" dy="22">value = [6, 6, 2, 0]</tspan><tspan x="1850.8" dy="22">class = acc</tspan></text></g>
<g id="n63" class="nd"><rect x="1960.1" y="1365.7" width="169.9" height="98" rx="13" class="a"/><text x="2045" y="1387.5">gini = 0.0<tspan x="2045" dy="22">samples = 6</tspan><tspan x="2045" dy="22">value = [6, 0, 0, 0]</tspan><tspan x="2045" dy="22">class = acc</tspan></text></g>
<g id="n64" class="nd"><rect x="2157.7" y="1354.2" width="169.9" height="121" rx="13" class="w"/><text x="2242.6" y="1376.5">persons ≤ 1.5<tspan x="2242.6" dy="22">gini = 0.5</tspan><tspan x="2242.6" dy="22">samples = 4</tspan><tspan x="2242.6" dy="22">value = [2, 0, 2, 0]</tspan><tspan x="2242.6" dy="22">class = acc</tspan></text></g>
<g id="n65" class="nd"><rect x="2354.8" y="1365.7" width="169.9" height="98" rx="13" class="a"/><text x="2439.7" y="1387.5">gini = 0.0<tspan x="2439.7" dy="22">samples = 2</tspan><tspan x="2439.7" dy="22">value = [2, 0, 0, 0]</tspan><tspan x="2439.7" dy="22">class = acc</tspan></text></g>
<g id="n66" class="nd"><rect x="2549.5" y="1365.7" width="169.9" height="98" rx="13" class="u"/><text x="2634.4" y="1387.5">gini = 0.0<tspan x="2634.4" dy="22">samples = 2</tspan><tspan x="2634.4" dy="22">value = [0, 0, 2, 0]</tspan><tspan x="2634.4" dy="22">class = unacc</tspan></text></g>
<g id="n67" class="nd"><rect x="2743.3" y="1365.7" width="180.9" height="98" rx="13" class="a"/><text x="2833.7" y="1387.5">gini = 0.0<tspan x="2833.7" dy="22">samples = 20</tspan><tspan x="2833.7" dy="22">value = [20, 0, 0, 0]</tspan><tspan x="2833.7" dy="22">class = acc</tspan></text></g>
<g id="n68" class="nd"><rect x="2948.8" y="1354.2" width="180.9" height="121" rx="13" fill="#eeae80"/><text x="3039.2" y="1376.5">doors ≤ 1.5<tspan x="3039.2" dy="22">gini = 0.388</tspan><tspan x="3039.2" dy="22">samples = 19</tspan><tspan x="3039.2" dy="22">value = [14, 0, 5, 0]</tspan><tspan x="3039.2" dy="22">class = acc</tspan></text></g>
<g id="n69" class="nd"><rect x="3202.2" y="1354.2" width="180.9" height="121" rx="13" fill="#ea985d"/><text x="3292.6" y="1376.5">doors ≤ 0.5<tspan x="3292.6" dy="22">gini = 0.26</tspan><tspan x="3292.6" dy="22">samples = 26</tspan><tspan x="3292.6" dy="22">value = [22, 0, 4, 0]</tspan><tspan x="3292.6" dy="22">class = acc</tspan></text></g>
<g id="n70" class="nd"><rect x="3633.1" y="1354.2" width="191.9" height="121" rx="13" fill="#cdf8c9"/><text x="3729" y="1376.5">maint ≤ 1.5<tspan x="3729" dy="22">gini = 0.488</tspan><tspan x="3729" dy="22">samples = 57</tspan><tspan x="3729" dy="22">value = [24, 33, 0, 0]</tspan><tspan x="3729" dy="22">class = good</tspan></text></g>
<g id="n71" class="nd"><rect x="3975.6" y="1365.7" width="180.9" height="98" rx="13" class="a"/><text x="4066" y="1387.5">gini = 0.0<tspan x="4066" dy="22">samples = 13</tspan><tspan x="4066" dy="22">value = [13, 0, 0, 0]</tspan><tspan x="4066" dy="22">class = acc</tspan></text></g>
<g id="n72" class="nd"><rect x="4181.4" y="1354.2" width="169.9" height="121" rx="13" fill="#f4c9aa"/><text x="4266.3" y="1376.5">doors ≤ 0.5<tspan x="4266.3" dy="22">gini = 0.463</tspan><tspan x="4266.3" dy="22">samples = 11</tspan><tspan x="4266.3" dy="22">value = [7, 0, 4, 0]</tspan><tspan x="4266.3" dy="22">class = acc</tspan></text></g>
<g id="n73" class="nd"><rect x="4637.7" y="1354.2" width="169.9" height="121" rx="13" class="w"/><text x="4722.6" y="1376.5">lug_boot ≤ 0.5<tspan x="4722.6" dy="22">gini = 0.5</tspan><tspan x="4722.6" dy="22">samples = 8</tspan><tspan x="4722.6" dy="22">value = [4, 0, 4, 0]</tspan><tspan x="4722.6" dy="22">class = acc</tspan></text></g>
<g id="n74" class="nd"><rect x="4933.3" y="1354.2" width="180.9" height="121" rx="13" fill="#e68845"/><text x="5023.7" y="1376.5">doors ≤ 1.5<tspan x="5023.7" dy="22">gini = 0.105</tspan><tspan x="5023.7" dy="22">samples = 18</tspan><tspan x="5023.7" dy="22">value = [17, 0, 1, 0]</tspan><tspan x="5023.7" dy="22">class = acc</tspan></text></g>
<g id="n75" class="nd"><rect x="5433.6" y="1354.2" width="169.9" height="121" rx="13" fill="#deeffb"/><text x="5518.5" y="1376.5">buying ≤ 1.5<tspan x="5518.5" dy="22">gini = 0.496</tspan><tspan x="5518.5" dy="22">samples = 11</tspan><tspan x="5518.5" dy="22">value = [5, 0, 6, 0]</tspan><tspan x="5518.5" dy="22">class = unacc</tspan></text></g>
<g id="n76" class="nd"><rect x="5722.7" y="1354.2" width="180.9" height="121" rx="13" fill="#e78c4a"/><text x="5813.1" y="1376.5">doors ≤ 0.5<tspan x="5813.1" dy="22">gini = 0.147</tspan><tspan x="5813.1" dy="22">samples = 25</tspan><tspan x="5813.1" dy="22">value = [23, 0, 2, 0]</tspan><tspan x="5813.1" dy="22">class = acc</tspan></text></g>
<g id="n77" class="nd"><rect x="92.2" y="1522.85" width="169.9" height="121" rx="13" fill="#f5cef8"/><text x="177.1" y="1545.15">lug_boot ≤ 0.5<tspan x="177.1" dy="22">gini = 0.49</tspan><tspan x="177.1" dy="22">samples = 7</tspan><tspan x="177.1" dy="22">value = [3, 0, 0, 4]</tspan><tspan x="177.1" dy="22">class = vgood</tspan></text></g>
<g id="n78" class="nd"><rect x="286.6" y="1534.35" width="169.9" height="98" rx="13" class="v"/><text x="371.5" y="1556.15">gini = 0.0<tspan x="371.5" dy="22">samples = 5</tspan><tspan x="371.5" dy="22">value = [0, 0, 0, 5]</tspan><tspan x="371.5" dy="22">class = vgood</tspan></text></g>
<g id="n79" class="nd"><rect x="486.7" y="1534.35" width="169.9" height="98" rx="13" class="v"/><text x="571.6" y="1556.15">gini = 0.0<tspan x="571.6" dy="22">samples = 6</tspan><tspan x="571.6" dy="22">value = [0, 0, 0, 6]</tspan><tspan x="571.6" dy="22">class = vgood</tspan></text></g>
<g id="n80" class="nd"><rect x="682.1" y="1522.85" width="169.9" height="121" rx="13" fill="#66e95a"/><text x="767" y="1545.15">buying ≤ 1.5<tspan x="767" dy="22">gini = 0.245</tspan><tspan x="767" dy="22">samples = 7</tspan><tspan x="767" dy="22">value = [1, 6, 0, 0]</tspan><tspan x="767" dy="22">class = good</tspan></text></g>
<g id="n81" class="nd"><rect x="881.7" y="1522.85" width="169.9" height="121" rx="13" fill="#e16aec"/><text x="966.6" y="1545.15">persons ≤ 1.5<tspan x="966.6" dy="22">gini = 0.32</tspan><tspan x="966.6" dy="22">samples = 10</tspan><tspan x="966.6" dy="22">value = [0, 2, 0, 8]</tspan><tspan x="966.6" dy="22">class = vgood</tspan></text></g>
<g id="n82" class="nd"><rect x="1075.8" y="1534.35" width="180.9" height="98" rx="13" class="v"/><text x="1166.2" y="1556.15">gini = 0.0<tspan x="1166.2" dy="22">samples = 27</tspan><tspan x="1166.2" dy="22">value = [0, 0, 0, 27]</tspan><tspan x="1166.2" dy="22">class = vgood</tspan></text></g>
<g id="n83" class="nd"><rect x="1365.4" y="1522.85" width="169.9" height="121" rx="13" class="w"/><text x="1450.3" y="1545.15">persons ≤ 1.5<tspan x="1450.3" dy="22">gini = 0.5</tspan><tspan x="1450.3" dy="22">samples = 4</tspan><tspan x="1450.3" dy="22">value = [0, 2, 2, 0]</tspan><tspan x="1450.3" dy="22">class = good</tspan></text></g>
<g id="n84" class="nd"><rect x="1559.9" y="1534.35" width="180.9" height="98" rx="13" class="g"/><text x="1650.3" y="1556.15">gini = 0.0<tspan x="1650.3" dy="22">samples = 10</tspan><tspan x="1650.3" dy="22">value = [0, 10, 0, 0]</tspan><tspan x="1650.3" dy="22">class = good</tspan></text></g>
<g id="n85" class="nd"><rect x="1765.9" y="1522.85" width="169.9" height="121" rx="13" fill="#66e95a"/><text x="1850.8" y="1545.15">doors ≤ 0.5<tspan x="1850.8" dy="22">gini = 0.245</tspan><tspan x="1850.8" dy="22">samples = 7</tspan><tspan x="1850.8" dy="22">value = [0, 6, 1, 0]</tspan><tspan x="1850.8" dy="22">class = good</tspan></text></g>
<g id="n86" class="nd"><rect x="1962.6" y="1522.85" width="169.9" height="121" rx="13" fill="#e9965a"/><text x="2047.5" y="1545.15">doors ≤ 0.5<tspan x="2047.5" dy="22">gini = 0.245</tspan><tspan x="2047.5" dy="22">samples = 7</tspan><tspan x="2047.5" dy="22">value = [6, 0, 1, 0]</tspan><tspan x="2047.5" dy="22">class = acc</tspan></text></g>
<g id="n87" class="nd"><rect x="2157.7" y="1534.35" width="169.9" height="98" rx="13" class="a"/><text x="2242.6" y="1556.15">gini = 0.0<tspan x="2242.6" dy="22">samples = 2</tspan><tspan x="2242.6" dy="22">value = [2, 0, 0, 0]</tspan><tspan x="2242.6" dy="22">class = acc</tspan></text></g>
<g id="n88" class="nd"><rect x="2352.9" y="1534.35" width="169.9" height="98" rx="13" class="u"/><text x="2437.8" y="1556.15">gini = 0.0<tspan x="2437.8" dy="22">samples = 2</tspan><tspan x="2437.8" dy="22">value = [0, 0, 2, 0]</tspan><tspan x="2437.8" dy="22">class = unacc</tspan></text></g>
<g id="n89" class="nd"><rect x="2562.7" y="1522.85" width="169.9" height="121" rx="13" class="w"/><text x="2647.6" y="1545.15">buying ≤ 1.5<tspan x="2647.6" dy="22">gini = 0.5</tspan><tspan x="2647.6" dy="22">samples = 10</tspan><tspan x="2647.6" dy="22">value = [5, 0, 5, 0]</tspan><tspan x="2647.6" dy="22">class = acc</tspan></text></g>
<g id="n90" class="nd"><rect x="2785.1" y="1534.35" width="169.9" height="98" rx="13" class="a"/><text x="2870" y="1556.15">gini = 0.0<tspan x="2870" dy="22">samples = 9</tspan><tspan x="2870" dy="22">value = [9, 0, 0, 0]</tspan><tspan x="2870" dy="22">class = acc</tspan></text></g>
<g id="n91" class="nd"><rect x="2980.1" y="1522.85" width="169.9" height="121" rx="13" fill="#f8e0ce"/><text x="3065" y="1545.15">lug_boot ≤ 0.5<tspan x="3065" dy="22">gini = 0.49</tspan><tspan x="3065" dy="22">samples = 7</tspan><tspan x="3065" dy="22">value = [4, 0, 3, 0]</tspan><tspan x="3065" dy="22">class = acc</tspan></text></g>
<g id="n92" class="nd"><rect x="3202.6" y="1522.85" width="180.9" height="121" rx="13" fill="#e68844"/><text x="3293" y="1545.15">doors ≤ 1.5<tspan x="3293" dy="22">gini = 0.1</tspan><tspan x="3293" dy="22">samples = 19</tspan><tspan x="3293" dy="22">value = [18, 0, 1, 0]</tspan><tspan x="3293" dy="22">class = acc</tspan></text></g>
<g id="n93" class="nd"><rect x="3639" y="1522.85" width="180.9" height="121" rx="13" fill="#77ec6d"/><text x="3729.4" y="1545.15">doors ≤ 1.5<tspan x="3729.4" dy="22">gini = 0.328</tspan><tspan x="3729.4" dy="22">samples = 29</tspan><tspan x="3729.4" dy="22">value = [6, 23, 0, 0]</tspan><tspan x="3729.4" dy="22">class = good</tspan></text></g>
<g id="n94" class="nd"><rect x="3941.6" y="1522.85" width="191.9" height="121" rx="13" fill="#f3c7a7"/><text x="4037.5" y="1545.15">buying ≤ 1.5<tspan x="4037.5" dy="22">gini = 0.459</tspan><tspan x="4037.5" dy="22">samples = 28</tspan><tspan x="4037.5" dy="22">value = [18, 10, 0, 0]</tspan><tspan x="4037.5" dy="22">class = acc</tspan></text></g>
<g id="n95" class="nd"><rect x="4160.4" y="1534.35" width="169.9" height="98" rx="13" class="u"/><text x="4245.3" y="1556.15">gini = 0.0<tspan x="4245.3" dy="22">samples = 3</tspan><tspan x="4245.3" dy="22">value = [0, 0, 3, 0]</tspan><tspan x="4245.3" dy="22">class = unacc</tspan></text></g>
<g id="n96" class="nd"><rect x="4355.4" y="1522.85" width="169.9" height="121" rx="13" fill="#e99355"/><text x="4440.3" y="1545.15">doors ≤ 1.5<tspan x="4440.3" dy="22">gini = 0.219</tspan><tspan x="4440.3" dy="22">samples = 8</tspan><tspan x="4440.3" dy="22">value = [7, 0, 1, 0]</tspan><tspan x="4440.3" dy="22">class = acc</tspan></text></g>
<g id="n97" class="nd"><rect x="4549.6" y="1534.35" width="169.9" height="98" rx="13" class="a"/><text x="4634.5" y="1556.15">gini = 0.0<tspan x="4634.5" dy="22">samples = 4</tspan><tspan x="4634.5" dy="22">value = [4, 0, 0, 0]</tspan><tspan x="4634.5" dy="22">class = acc</tspan></text></g>
<g id="n98" class="nd"><rect x="4744.2" y="1534.35" width="169.9" height="98" rx="13" class="u"/><text x="4829.1" y="1556.15">gini = 0.0<tspan x="4829.1" dy="22">samples = 4</tspan><tspan x="4829.1" dy="22">value = [0, 0, 4, 0]</tspan><tspan x="4829.1" dy="22">class = unacc</tspan></text></g>
<g id="n99" class="nd"><rect x="4938.8" y="1522.85" width="169.9" height="121" rx="13" fill="#eca06a"/><text x="5023.7" y="1545.15">persons ≤ 1.5<tspan x="5023.7" dy="22">gini = 0.32</tspan><tspan x="5023.7" dy="22">samples = 5</tspan><tspan x="5023.7" dy="22">value = [4, 0, 1, 0]</tspan><tspan x="5023.7" dy="22">class = acc</tspan></text></g>
<g id="n100" class="nd"><rect x="5133.3" y="1534.35" width="180.9" height="98" rx="13" class="a"/><text x="5223.7" y="1556.15">gini = 0.0<tspan x="5223.7" dy="22">samples = 13</tspan><tspan x="5223.7" dy="22">value = [13, 0, 0, 0]</tspan><tspan x="5223.7" dy="22">class = acc</tspan></text></g>
<g id="n101" class="nd"><rect x="5340.1" y="1522.85" width="169.9" height="121" rx="13" fill="#ea9a61"/><text x="5425" y="1545.15">doors ≤ 0.5<tspan x="5425" dy="22">gini = 0.278</tspan><tspan x="5425" dy="22">samples = 6</tspan><tspan x="5425" dy="22">value = [5, 0, 1, 0]</tspan><tspan x="5425" dy="22">class = acc</tspan></text></g>
<g id="n102" class="nd"><rect x="5533.6" y="1534.35" width="169.9" height="98" rx="13" class="u"/><text x="5618.5" y="1556.15">gini = 0.0<tspan x="5618.5" dy="22">samples = 5</tspan><tspan x="5618.5" dy="22">value = [0, 0, 5, 0]</tspan><tspan x="5618.5" dy="22">class = unacc</tspan></text></g>
<g id="n103" class="nd"><rect x="5728.1" y="1522.85" width="169.9" height="121" rx="13" class="w"/><text x="5813" y="1545.15">persons ≤ 1.5<tspan x="5813" dy="22">gini = 0.5</tspan><tspan x="5813" dy="22">samples = 4</tspan><tspan x="5813" dy="22">value = [2, 0, 2, 0]</tspan><tspan x="5813" dy="22">class = acc</tspan></text></g>
<g id="n104" class="nd"><rect x="5922.6" y="1534.35" width="180.9" height="98" rx="13" class="a"/><text x="6013" y="1556.15">gini = 0.0<tspan x="6013" dy="22">samples = 21</tspan><tspan x="6013" dy="22">value = [21, 0, 0, 0]</tspan><tspan x="6013" dy="22">class = acc</tspan></text></g>
<g id="n105" class="nd"><rect x="5.1" y="1703" width="169.9" height="98" rx="13" class="v"/><text x="90" y="1724.8">gini = 0.0<tspan x="90" dy="22">samples = 3</tspan><tspan x="90" dy="22">value = [0, 0, 0, 3]</tspan><tspan x="90" dy="22">class = vgood</tspan></text></g>
<g id="n106" class="nd"><rect x="199.8" y="1691.5" width="169.9" height="121" rx="13" fill="#eeab7b"/><text x="284.7" y="1713.8">doors ≤ 0.5<tspan x="284.7" dy="22">gini = 0.375</tspan><tspan x="284.7" dy="22">samples = 4</tspan><tspan x="284.7" dy="22">value = [3, 0, 0, 1]</tspan><tspan x="284.7" dy="22">class = acc</tspan></text></g>
<g id="n107" class="nd"><rect x="405.6" y="1703" width="169.9" height="98" rx="13" class="g"/><text x="490.5" y="1724.8">gini = 0.0<tspan x="490.5" dy="22">samples = 4</tspan><tspan x="490.5" dy="22">value = [0, 4, 0, 0]</tspan><tspan x="490.5" dy="22">class = good</tspan></text></g>
<g id="n108" class="nd"><rect x="600.5" y="1691.5" width="169.9" height="121" rx="13" fill="#a3f29c"/><text x="685.4" y="1713.8">maint ≤ 1.5<tspan x="685.4" dy="22">gini = 0.444</tspan><tspan x="685.4" dy="22">samples = 3</tspan><tspan x="685.4" dy="22">value = [1, 2, 0, 0]</tspan><tspan x="685.4" dy="22">class = good</tspan></text></g>
<g id="n109" class="nd"><rect x="795.8" y="1691.5" width="169.9" height="121" rx="13" class="w"/><text x="880.7" y="1713.8">lug_boot ≤ 0.5<tspan x="880.7" dy="22">gini = 0.5</tspan><tspan x="880.7" dy="22">samples = 4</tspan><tspan x="880.7" dy="22">value = [0, 2, 0, 2]</tspan><tspan x="880.7" dy="22">class = good</tspan></text></g>
<g id="n110" class="nd"><rect x="989.3" y="1703" width="169.9" height="98" rx="13" class="v"/><text x="1074.2" y="1724.8">gini = 0.0<tspan x="1074.2" dy="22">samples = 6</tspan><tspan x="1074.2" dy="22">value = [0, 0, 0, 6]</tspan><tspan x="1074.2" dy="22">class = vgood</tspan></text></g>
<g id="n111" class="nd"><rect x="1184.2" y="1703" width="169.9" height="98" rx="13" class="g"/><text x="1269.1" y="1724.8">gini = 0.0<tspan x="1269.1" dy="22">samples = 2</tspan><tspan x="1269.1" dy="22">value = [0, 2, 0, 0]</tspan><tspan x="1269.1" dy="22">class = good</tspan></text></g>
<g id="n112" class="nd"><rect x="1378.6" y="1703" width="169.9" height="98" rx="13" class="u"/><text x="1463.5" y="1724.8">gini = 0.0<tspan x="1463.5" dy="22">samples = 2</tspan><tspan x="1463.5" dy="22">value = [0, 0, 2, 0]</tspan><tspan x="1463.5" dy="22">class = unacc</tspan></text></g>
<g id="n113" class="nd"><rect x="1573.7" y="1691.5" width="169.9" height="121" rx="13" class="w"/><text x="1658.6" y="1713.8">persons ≤ 1.5<tspan x="1658.6" dy="22">gini = 0.5</tspan><tspan x="1658.6" dy="22">samples = 2</tspan><tspan x="1658.6" dy="22">value = [0, 1, 1, 0]</tspan><tspan x="1658.6" dy="22">class = good</tspan></text></g>
<g id="n114" class="nd"><rect x="1768.9" y="1703" width="169.9" height="98" rx="13" class="g"/><text x="1853.8" y="1724.8">gini = 0.0<tspan x="1853.8" dy="22">samples = 5</tspan><tspan x="1853.8" dy="22">value = [0, 5, 0, 0]</tspan><tspan x="1853.8" dy="22">class = good</tspan></text></g>
<g id="n115" class="nd"><rect x="1962.6" y="1703" width="169.9" height="98" rx="13" class="u"/><text x="2047.5" y="1724.8">gini = 0.0<tspan x="2047.5" dy="22">samples = 1</tspan><tspan x="2047.5" dy="22">value = [0, 0, 1, 0]</tspan><tspan x="2047.5" dy="22">class = unacc</tspan></text></g>
<g id="n116" class="nd"><rect x="2157.7" y="1703" width="169.9" height="98" rx="13" class="a"/><text x="2242.6" y="1724.8">gini = 0.0<tspan x="2242.6" dy="22">samples = 6</tspan><tspan x="2242.6" dy="22">value = [6, 0, 0, 0]</tspan><tspan x="2242.6" dy="22">class = acc</tspan></text></g>
<g id="n117" class="nd"><rect x="2369" y="1691.5" width="169.9" height="121" rx="13" fill="#f2c09c"/><text x="2453.9" y="1713.8">buying ≤ 0.5<tspan x="2453.9" dy="22">gini = 0.444</tspan><tspan x="2453.9" dy="22">samples = 6</tspan><tspan x="2453.9" dy="22">value = [4, 0, 2, 0]</tspan><tspan x="2453.9" dy="22">class = acc</tspan></text></g>
<g id="n118" class="nd"><rect x="2562.7" y="1691.5" width="169.9" height="121" rx="13" fill="#7bbeee"/><text x="2647.6" y="1713.8">persons ≤ 1.5<tspan x="2647.6" dy="22">gini = 0.375</tspan><tspan x="2647.6" dy="22">samples = 4</tspan><tspan x="2647.6" dy="22">value = [1, 0, 3, 0]</tspan><tspan x="2647.6" dy="22">class = unacc</tspan></text></g>
<g id="n119" class="nd"><rect x="2757.5" y="1703" width="169.9" height="98" rx="13" class="a"/><text x="2842.4" y="1724.8">gini = 0.0<tspan x="2842.4" dy="22">samples = 4</tspan><tspan x="2842.4" dy="22">value = [4, 0, 0, 0]</tspan><tspan x="2842.4" dy="22">class = acc</tspan></text></g>
<g id="n120" class="nd"><rect x="2952.5" y="1703" width="169.9" height="98" rx="13" class="u"/><text x="3037.4" y="1724.8">gini = 0.0<tspan x="3037.4" dy="22">samples = 3</tspan><tspan x="3037.4" dy="22">value = [0, 0, 3, 0]</tspan><tspan x="3037.4" dy="22">class = unacc</tspan></text></g>
<g id="n121" class="nd"><rect x="3146.5" y="1691.5" width="169.9" height="121" rx="13" fill="#eca06a"/><text x="3231.4" y="1713.8">lug_boot ≤ 0.5<tspan x="3231.4" dy="22">gini = 0.32</tspan><tspan x="3231.4" dy="22">samples = 5</tspan><tspan x="3231.4" dy="22">value = [4, 0, 1, 0]</tspan><tspan x="3231.4" dy="22">class = acc</tspan></text></g>
<g id="n122" class="nd"><rect x="3341" y="1703" width="180.9" height="98" rx="13" class="a"/><text x="3431.4" y="1724.8">gini = 0.0<tspan x="3431.4" dy="22">samples = 14</tspan><tspan x="3431.4" dy="22">value = [14, 0, 0, 0]</tspan><tspan x="3431.4" dy="22">class = acc</tspan></text></g>
<g id="n123" class="nd"><rect x="3547" y="1691.5" width="169.9" height="121" rx="13" fill="#c2f6bd"/><text x="3631.9" y="1713.8">lug_boot ≤ 0.5<tspan x="3631.9" dy="22">gini = 0.48</tspan><tspan x="3631.9" dy="22">samples = 15</tspan><tspan x="3631.9" dy="22">value = [6, 9, 0, 0]</tspan><tspan x="3631.9" dy="22">class = good</tspan></text></g>
<g id="n124" class="nd"><rect x="3741.1" y="1703" width="180.9" height="98" rx="13" class="g"/><text x="3831.5" y="1724.8">gini = 0.0<tspan x="3831.5" dy="22">samples = 14</tspan><tspan x="3831.5" dy="22">value = [0, 14, 0, 0]</tspan><tspan x="3831.5" dy="22">class = good</tspan></text></g>
<g id="n125" class="nd"><rect x="3946.6" y="1691.5" width="180.9" height="121" rx="13" fill="#7eed74"/><text x="4037" y="1713.8">doors ≤ 1.5<tspan x="4037" dy="22">gini = 0.355</tspan><tspan x="4037" dy="22">samples = 13</tspan><tspan x="4037" dy="22">value = [3, 10, 0, 0]</tspan><tspan x="4037" dy="22">class = good</tspan></text></g>
<g id="n126" class="nd"><rect x="4152.2" y="1703" width="180.9" height="98" rx="13" class="a"/><text x="4242.6" y="1724.8">gini = 0.0<tspan x="4242.6" dy="22">samples = 15</tspan><tspan x="4242.6" dy="22">value = [15, 0, 0, 0]</tspan><tspan x="4242.6" dy="22">class = acc</tspan></text></g>
<g id="n127" class="nd"><rect x="4357.7" y="1691.5" width="169.9" height="121" rx="13" fill="#f2c09c"/><text x="4442.6" y="1713.8">persons ≤ 1.5<tspan x="4442.6" dy="22">gini = 0.444</tspan><tspan x="4442.6" dy="22">samples = 3</tspan><tspan x="4442.6" dy="22">value = [2, 0, 1, 0]</tspan><tspan x="4442.6" dy="22">class = acc</tspan></text></g>
<g id="n128" class="nd"><rect x="4552.7" y="1703" width="169.9" height="98" rx="13" class="a"/><text x="4637.6" y="1724.8">gini = 0.0<tspan x="4637.6" dy="22">samples = 5</tspan><tspan x="4637.6" dy="22">value = [5, 0, 0, 0]</tspan><tspan x="4637.6" dy="22">class = acc</tspan></text></g>
<g id="n129" class="nd"><rect x="4799.7" y="1691.5" width="169.9" height="121" rx="13" fill="#f2c09c"/><text x="4884.6" y="1713.8">lug_boot ≤ 0.5<tspan x="4884.6" dy="22">gini = 0.444</tspan><tspan x="4884.6" dy="22">samples = 3</tspan><tspan x="4884.6" dy="22">value = [2, 0, 1, 0]</tspan><tspan x="4884.6" dy="22">class = acc</tspan></text></g>
<g id="n130" class="nd"><rect x="4994.7" y="1703" width="169.9" height="98" rx="13" class="a"/><text x="5079.6" y="1724.8">gini = 0.0<tspan x="5079.6" dy="22">samples = 2</tspan><tspan x="5079.6" dy="22">value = [2, 0, 0, 0]</tspan><tspan x="5079.6" dy="22">class = acc</tspan></text></g>
<g id="n131" class="nd"><rect x="5192" y="1703" width="169.9" height="98" rx="13" class="u"/><text x="5276.9" y="1724.8">gini = 0.0<tspan x="5276.9" dy="22">samples = 1</tspan><tspan x="5276.9" dy="22">value = [0, 0, 1, 0]</tspan><tspan x="5276.9" dy="22">class = unacc</tspan></text></g>
<g id="n132" class="nd"><rect x="5386.9" y="1703" width="169.9" height="98" rx="13" class="a"/><text x="5471.8" y="1724.8">gini = 0.0<tspan x="5471.8" dy="22">samples = 5</tspan><tspan x="5471.8" dy="22">value = [5, 0, 0, 0]</tspan><tspan x="5471.8" dy="22">class = acc</tspan></text></g>
<g id="n133" class="nd"><rect x="5678.6" y="1703" width="169.9" height="98" rx="13" class="a"/><text x="5763.5" y="1724.8">gini = 0.0<tspan x="5763.5" dy="22">samples = 2</tspan><tspan x="5763.5" dy="22">value = [2, 0, 0, 0]</tspan><tspan x="5763.5" dy="22">class = acc</tspan></text></g>
<g id="n134" class="nd"><rect x="5873.4" y="1703" width="169.9" height="98" rx="13" class="u"/><text x="5958.3" y="1724.8">gini = 0.0<tspan x="5958.3" dy="22">samples = 2</tspan><tspan x="5958.3" dy="22">value = [0, 0, 2, 0]</tspan><tspan x="5958.3" dy="22">class = unacc</tspan></text></g>
<g id="n135" class="nd"><rect x="10.1" y="1871.65" width="169.9" height="98" rx="13" class="a"/><text x="95" y="1893.45">gini = 0.0<tspan x="95" dy="22">samples = 2</tspan><tspan x="95" dy="22">value = [2, 0, 0, 0]</tspan><tspan x="95" dy="22">class = acc</tspan></text></g>
<g id="n136" class="nd"><rect x="206.4" y="1860.15" width="169.9" height="121" rx="13" class="w"/><text x="291.3" y="1882.45">persons ≤ 1.5<tspan x="291.3" dy="22">gini = 0.5</tspan><tspan x="291.3" dy="22">samples = 2</tspan><tspan x="291.3" dy="22">value = [1, 0, 0, 1]</tspan><tspan x="291.3" dy="22">class = acc</tspan></text></g>
<g id="n137" class="nd"><rect x="405.6" y="1871.65" width="169.9" height="98" rx="13" class="g"/><text x="490.5" y="1893.45">gini = 0.0<tspan x="490.5" dy="22">samples = 2</tspan><tspan x="490.5" dy="22">value = [0, 2, 0, 0]</tspan><tspan x="490.5" dy="22">class = good</tspan></text></g>
<g id="n138" class="nd"><rect x="600.5" y="1871.65" width="169.9" height="98" rx="13" class="a"/><text x="685.4" y="1893.45">gini = 0.0<tspan x="685.4" dy="22">samples = 1</tspan><tspan x="685.4" dy="22">value = [1, 0, 0, 0]</tspan><tspan x="685.4" dy="22">class = acc</tspan></text></g>
<g id="n139" class="nd"><rect x="795.8" y="1871.65" width="169.9" height="98" rx="13" class="v"/><text x="880.7" y="1893.45">gini = 0.0<tspan x="880.7" dy="22">samples = 2</tspan><tspan x="880.7" dy="22">value = [0, 0, 0, 2]</tspan><tspan x="880.7" dy="22">class = vgood</tspan></text></g>
<g id="n140" class="nd"><rect x="989.3" y="1871.65" width="169.9" height="98" rx="13" class="g"/><text x="1074.2" y="1893.45">gini = 0.0<tspan x="1074.2" dy="22">samples = 2</tspan><tspan x="1074.2" dy="22">value = [0, 2, 0, 0]</tspan><tspan x="1074.2" dy="22">class = good</tspan></text></g>
<g id="n141" class="nd"><rect x="1476.1" y="1871.65" width="169.9" height="98" rx="13" class="g"/><text x="1561" y="1893.45">gini = 0.0<tspan x="1561" dy="22">samples = 1</tspan><tspan x="1561" dy="22">value = [0, 1, 0, 0]</tspan><tspan x="1561" dy="22">class = good</tspan></text></g>
<g id="n142" class="nd"><rect x="1671.3" y="1871.65" width="169.9" height="98" rx="13" class="u"/><text x="1756.2" y="1893.45">gini = 0.0<tspan x="1756.2" dy="22">samples = 1</tspan><tspan x="1756.2" dy="22">value = [0, 0, 1, 0]</tspan><tspan x="1756.2" dy="22">class = unacc</tspan></text></g>
<g id="n143" class="nd"><rect x="2173.8" y="1860.15" width="169.9" height="121" rx="13" fill="#9ccef2"/><text x="2258.7" y="1882.45">persons ≤ 1.5<tspan x="2258.7" dy="22">gini = 0.444</tspan><tspan x="2258.7" dy="22">samples = 3</tspan><tspan x="2258.7" dy="22">value = [1, 0, 2, 0]</tspan><tspan x="2258.7" dy="22">class = unacc</tspan></text></g>
<g id="n144" class="nd"><rect x="2369" y="1871.65" width="169.9" height="98" rx="13" class="a"/><text x="2453.9" y="1893.45">gini = 0.0<tspan x="2453.9" dy="22">samples = 3</tspan><tspan x="2453.9" dy="22">value = [3, 0, 0, 0]</tspan><tspan x="2453.9" dy="22">class = acc</tspan></text></g>
<g id="n145" class="nd"><rect x="2562.7" y="1871.65" width="169.9" height="98" rx="13" class="u"/><text x="2647.6" y="1893.45">gini = 0.0<tspan x="2647.6" dy="22">samples = 2</tspan><tspan x="2647.6" dy="22">value = [0, 0, 2, 0]</tspan><tspan x="2647.6" dy="22">class = unacc</tspan></text></g>
<g id="n146" class="nd"><rect x="2757.5" y="1860.15" width="169.9" height="121" rx="13" class="w"/><text x="2842.4" y="1882.45">doors ≤ 0.5<tspan x="2842.4" dy="22">gini = 0.5</tspan><tspan x="2842.4" dy="22">samples = 2</tspan><tspan x="2842.4" dy="22">value = [1, 0, 1, 0]</tspan><tspan x="2842.4" dy="22">class = acc</tspan></text></g>
<g id="n147" class="nd"><rect x="2957.5" y="1871.65" width="169.9" height="98" rx="13" class="a"/><text x="3042.4" y="1893.45">gini = 0.0<tspan x="3042.4" dy="22">samples = 3</tspan><tspan x="3042.4" dy="22">value = [3, 0, 0, 0]</tspan><tspan x="3042.4" dy="22">class = acc</tspan></text></g>
<g id="n148" class="nd"><rect x="3152.1" y="1860.15" width="169.9" height="121" rx="13" class="w"/><text x="3237" y="1882.45">persons ≤ 1.5<tspan x="3237" dy="22">gini = 0.5</tspan><tspan x="3237" dy="22">samples = 2</tspan><tspan x="3237" dy="22">value = [1, 0, 1, 0]</tspan><tspan x="3237" dy="22">class = acc</tspan></text></g>
<g id="n149" class="nd"><rect x="3356.2" y="1871.65" width="169.9" height="98" rx="13" class="g"/><text x="3441.1" y="1893.45">gini = 0.0<tspan x="3441.1" dy="22">samples = 7</tspan><tspan x="3441.1" dy="22">value = [0, 7, 0, 0]</tspan><tspan x="3441.1" dy="22">class = good</tspan></text></g>
<g id="n150" class="nd"><rect x="3551.1" y="1860.15" width="169.9" height="121" rx="13" fill="#eeab7b"/><text x="3636" y="1882.45">doors ≤ 0.5<tspan x="3636" dy="22">gini = 0.375</tspan><tspan x="3636" dy="22">samples = 8</tspan><tspan x="3636" dy="22">value = [6, 2, 0, 0]</tspan><tspan x="3636" dy="22">class = acc</tspan></text></g>
<g id="n151" class="nd"><rect x="3856" y="1860.15" width="169.9" height="121" rx="13" class="w"/><text x="3940.9" y="1882.45">lug_boot ≤ 0.5<tspan x="3940.9" dy="22">gini = 0.5</tspan><tspan x="3940.9" dy="22">samples = 6</tspan><tspan x="3940.9" dy="22">value = [3, 3, 0, 0]</tspan><tspan x="3940.9" dy="22">class = acc</tspan></text></g>
<g id="n152" class="nd"><rect x="4051.1" y="1871.65" width="169.9" height="98" rx="13" class="g"/><text x="4136" y="1893.45">gini = 0.0<tspan x="4136" dy="22">samples = 7</tspan><tspan x="4136" dy="22">value = [0, 7, 0, 0]</tspan><tspan x="4136" dy="22">class = good</tspan></text></g>
<g id="n153" class="nd"><rect x="4257.5" y="1871.65" width="169.9" height="98" rx="13" class="u"/><text x="4342.4" y="1893.45">gini = 0.0<tspan x="4342.4" dy="22">samples = 1</tspan><tspan x="4342.4" dy="22">value = [0, 0, 1, 0]</tspan><tspan x="4342.4" dy="22">class = unacc</tspan></text></g>
<g id="n154" class="nd"><rect x="4452.1" y="1871.65" width="169.9" height="98" rx="13" class="a"/><text x="4537" y="1893.45">gini = 0.0<tspan x="4537" dy="22">samples = 2</tspan><tspan x="4537" dy="22">value = [2, 0, 0, 0]</tspan><tspan x="4537" dy="22">class = acc</tspan></text></g>
<g id="n155" class="nd"><rect x="4654.7" y="1871.65" width="169.9" height="98" rx="13" class="a"/><text x="4739.6" y="1893.45">gini = 0.0<tspan x="4739.6" dy="22">samples = 2</tspan><tspan x="4739.6" dy="22">value = [2, 0, 0, 0]</tspan><tspan x="4739.6" dy="22">class = acc</tspan></text></g>
<g id="n156" class="nd"><rect x="4849.3" y="1871.65" width="169.9" height="98" rx="13" class="u"/><text x="4934.2" y="1893.45">gini = 0.0<tspan x="4934.2" dy="22">samples = 1</tspan><tspan x="4934.2" dy="22">value = [0, 0, 1, 0]</tspan><tspan x="4934.2" dy="22">class = unacc</tspan></text></g>
<g id="n157" class="nd"><rect x="108.7" y="2040.3" width="169.9" height="98" rx="13" class="a"/><text x="193.6" y="2062.1">gini = 0.0<tspan x="193.6" dy="22">samples = 1</tspan><tspan x="193.6" dy="22">value = [1, 0, 0, 0]</tspan><tspan x="193.6" dy="22">class = acc</tspan></text></g>
<g id="n158" class="nd"><rect x="302.7" y="2040.3" width="169.9" height="98" rx="13" class="v"/><text x="387.6" y="2062.1">gini = 0.0<tspan x="387.6" dy="22">samples = 1</tspan><tspan x="387.6" dy="22">value = [0, 0, 0, 1]</tspan><tspan x="387.6" dy="22">class = vgood</tspan></text></g>
<g id="n159" class="nd"><rect x="2076.7" y="2040.3" width="169.9" height="98" rx="13" class="u"/><text x="2161.6" y="2062.1">gini = 0.0<tspan x="2161.6" dy="22">samples = 1</tspan><tspan x="2161.6" dy="22">value = [0, 0, 1, 0]</tspan><tspan x="2161.6" dy="22">class = unacc</tspan></text></g>
<g id="n160" class="nd"><rect x="2271.4" y="2028.8" width="169.9" height="121" rx="13" class="w"/><text x="2356.3" y="2051.1">doors ≤ 0.5<tspan x="2356.3" dy="22">gini = 0.5</tspan><tspan x="2356.3" dy="22">samples = 2</tspan><tspan x="2356.3" dy="22">value = [1, 0, 1, 0]</tspan><tspan x="2356.3" dy="22">class = acc</tspan></text></g>
<g id="n161" class="nd"><rect x="2572" y="2040.3" width="169.9" height="98" rx="13" class="u"/><text x="2656.9" y="2062.1">gini = 0.0<tspan x="2656.9" dy="22">samples = 1</tspan><tspan x="2656.9" dy="22">value = [0, 0, 1, 0]</tspan><tspan x="2656.9" dy="22">class = unacc</tspan></text></g>
<g id="n162" class="nd"><rect x="2765.3" y="2040.3" width="169.9" height="98" rx="13" class="a"/><text x="2850.2" y="2062.1">gini = 0.0<tspan x="2850.2" dy="22">samples = 1</tspan><tspan x="2850.2" dy="22">value = [1, 0, 0, 0]</tspan><tspan x="2850.2" dy="22">class = acc</tspan></text></g>
<g id="n163" class="nd"><rect x="2959.8" y="2040.3" width="169.9" height="98" rx="13" class="u"/><text x="3044.7" y="2062.1">gini = 0.0<tspan x="3044.7" dy="22">samples = 1</tspan><tspan x="3044.7" dy="22">value = [0, 0, 1, 0]</tspan><tspan x="3044.7" dy="22">class = unacc</tspan></text></g>
<g id="n164" class="nd"><rect x="3155.3" y="2040.3" width="169.9" height="98" rx="13" class="a"/><text x="3240.2" y="2062.1">gini = 0.0<tspan x="3240.2" dy="22">samples = 1</tspan><tspan x="3240.2" dy="22">value = [1, 0, 0, 0]</tspan><tspan x="3240.2" dy="22">class = acc</tspan></text></g>
<g id="n165" class="nd"><rect x="3357.1" y="2040.3" width="169.9" height="98" rx="13" class="a"/><text x="3442" y="2062.1">gini = 0.0<tspan x="3442" dy="22">samples = 4</tspan><tspan x="3442" dy="22">value = [4, 0, 0, 0]</tspan><tspan x="3442" dy="22">class = acc</tspan></text></g>
<g id="n166" class="nd"><rect x="3551.6" y="2028.8" width="169.9" height="121" rx="13" class="w"/><text x="3636.5" y="2051.1">persons ≤ 1.5<tspan x="3636.5" dy="22">gini = 0.5</tspan><tspan x="3636.5" dy="22">samples = 4</tspan><tspan x="3636.5" dy="22">value = [2, 2, 0, 0]</tspan><tspan x="3636.5" dy="22">class = acc</tspan></text></g>
<g id="n167" class="nd"><rect x="3754.8" y="2040.3" width="169.9" height="98" rx="13" class="g"/><text x="3839.7" y="2062.1">gini = 0.0<tspan x="3839.7" dy="22">samples = 3</tspan><tspan x="3839.7" dy="22">value = [0, 3, 0, 0]</tspan><tspan x="3839.7" dy="22">class = good</tspan></text></g>
<g id="n168" class="nd"><rect x="3949.3" y="2040.3" width="169.9" height="98" rx="13" class="a"/><text x="4034.2" y="2062.1">gini = 0.0<tspan x="4034.2" dy="22">samples = 3</tspan><tspan x="4034.2" dy="22">value = [3, 0, 0, 0]</tspan><tspan x="4034.2" dy="22">class = acc</tspan></text></g>
<g id="n169" class="nd"><rect x="2177.1" y="2197.45" width="169.9" height="98" rx="13" class="u"/><text x="2262" y="2219.25">gini = 0.0<tspan x="2262" dy="22">samples = 1</tspan><tspan x="2262" dy="22">value = [0, 0, 1, 0]</tspan><tspan x="2262" dy="22">class = unacc</tspan></text></g>
<g id="n170" class="nd"><rect x="2372.1" y="2197.45" width="169.9" height="98" rx="13" class="a"/><text x="2457" y="2219.25">gini = 0.0<tspan x="2457" dy="22">samples = 1</tspan><tspan x="2457" dy="22">value = [1, 0, 0, 0]</tspan><tspan x="2457" dy="22">class = acc</tspan></text></g>
<g id="n171" class="nd"><rect x="3455.1" y="2197.45" width="169.9" height="98" rx="13" class="a"/><text x="3540" y="2219.25">gini = 0.0<tspan x="3540" dy="22">samples = 2</tspan><tspan x="3540" dy="22">value = [2, 0, 0, 0]</tspan><tspan x="3540" dy="22">class = acc</tspan></text></g>
<g id="n172" class="nd"><rect x="3649.1" y="2197.45" width="169.9" height="98" rx="13" class="g"/><text x="3734" y="2219.25">gini = 0.0<tspan x="3734" dy="22">samples = 2</tspan><tspan x="3734" dy="22">value = [0, 2, 0, 0]</tspan><tspan x="3734" dy="22">class = good</tspan></text></g>
</g>
<text class="wm" x="5314" y="2251">CSDN @开开心心-</text>
</g>
</svg>
